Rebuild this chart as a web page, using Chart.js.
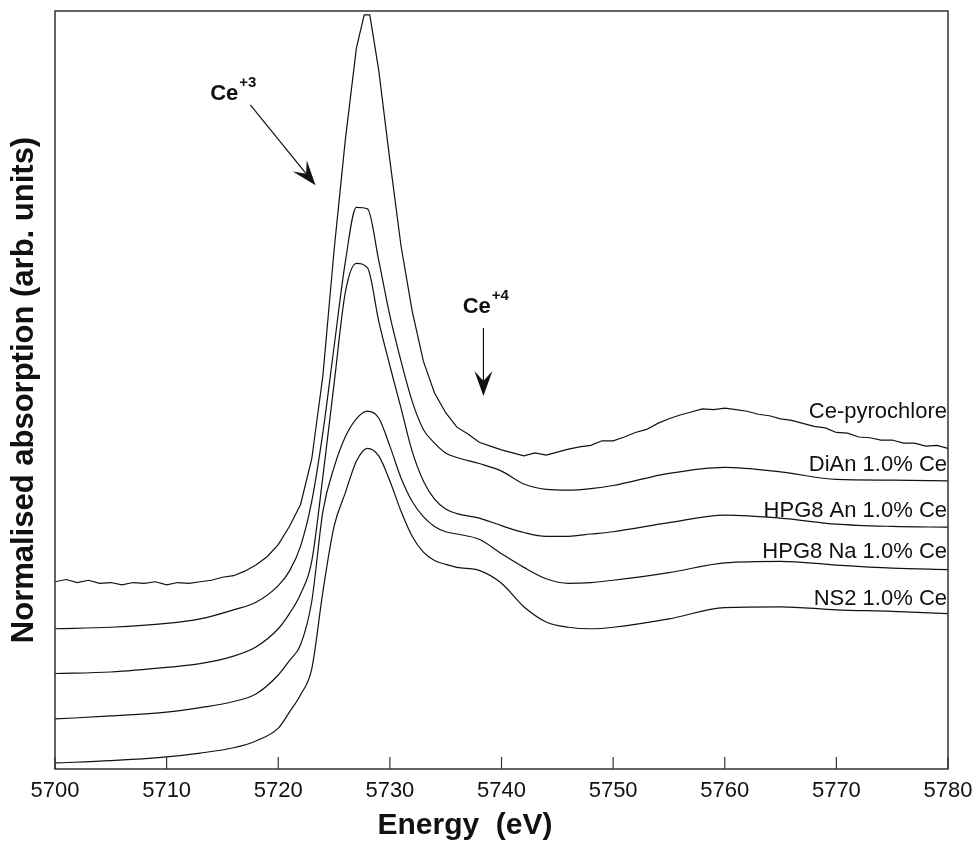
<!DOCTYPE html>
<html>
<head>
<meta charset="utf-8">
<title>Ce L3-edge XANES</title>
<script src="https://cdn.jsdelivr.net/npm/chart.js@4.4.1/dist/chart.umd.min.js"></script>
<style>
html,body{margin:0;padding:0;background:#fff;}
</style>
</head>
<body>
<canvas id="grafica" width="977" height="842"></canvas>
<script>
//-------------datos-----------------//
// energia comun (eV) para los vidrios
const energia = [5700,5705,5710,5713,5716,5718,5720,5721,5722,5723,5724,5725,5726,5727,5728,5729,5730,5731,5732,5733,5734,5735,5736,5738,5740,5742,5744,5746,5748,5750,5755,5760,5765,5770,5775,5780];

const dian   = [1.85,1.87,1.92,1.98,2.10,2.20,2.42,2.61,2.94,3.53,4.44,5.57,6.68,7.41,7.39,6.71,5.98,5.38,4.85,4.48,4.30,4.17,4.11,4.03,3.93,3.76,3.69,3.68,3.70,3.74,3.90,3.98,3.92,3.82,3.81,3.80];
const hpg8An = [1.26,1.28,1.34,1.39,1.49,1.61,1.85,2.05,2.31,2.74,3.86,5.08,6.28,6.67,6.61,5.91,5.32,4.76,4.19,3.80,3.56,3.43,3.37,3.31,3.21,3.12,3.07,3.07,3.10,3.13,3.25,3.35,3.31,3.23,3.20,3.19];
const hpg8Na = [0.66,0.70,0.75,0.81,0.89,0.99,1.24,1.43,1.64,2.21,3.40,3.98,4.38,4.62,4.72,4.63,4.26,3.84,3.53,3.33,3.20,3.13,3.10,3.03,2.84,2.66,2.51,2.45,2.46,2.49,2.59,2.72,2.74,2.69,2.65,2.63];
const ns2    = [0.08,0.11,0.16,0.21,0.28,0.37,0.54,0.75,0.98,1.32,2.34,3.20,3.64,4.06,4.23,4.13,3.80,3.40,3.07,2.86,2.75,2.70,2.66,2.62,2.45,2.14,1.94,1.87,1.85,1.87,1.98,2.13,2.14,2.10,2.08,2.05];

// pirocloro: espectro con ruido, paso de 1 eV
const energiaPyro = [5700,5701,5702,5703,5704,5705,5706,5707,5708,5709,5710,5711,5712,5713,5714,5715,5716,5717,5718,5719,5720,5721,5722,5723,5724,5725,5726,5727,5727.7,5728.2,
	5729,5730,5731,5732,5733,5734,5735,5736,5737,5738,5739,5740,5741,5742,5743,5744,5745,5746,5747,5748,5749,5750,5751,5752,5753,5754,5755,5756,5757,5758,5759,5760,
	5761,5762,5763,5764,5765,5766,5767,5768,5769,5770,5771,5772,5773,5774,5775,5776,5777,5778,5779,5780];
const pyro = [2.47,2.50,2.46,2.49,2.45,2.46,2.43,2.46,2.45,2.47,2.43,2.46,2.45,2.47,2.49,2.53,2.55,2.61,2.69,2.80,2.96,3.20,3.49,4.09,5.19,6.84,8.29,9.51,9.95,9.95,
	9.22,8.03,6.90,6.04,5.38,4.96,4.70,4.51,4.42,4.31,4.26,4.21,4.17,4.13,4.17,4.14,4.18,4.22,4.25,4.27,4.33,4.33,4.38,4.44,4.48,4.56,4.62,4.67,4.71,4.75,4.74,4.76,
	4.74,4.72,4.68,4.66,4.62,4.60,4.56,4.52,4.50,4.44,4.43,4.38,4.37,4.34,4.34,4.30,4.30,4.26,4.27,4.23];

const etiquetas = ['Ce-pyrochlore','DiAn 1.0% Ce','HPG8 An 1.0% Ce','HPG8 Na 1.0% Ce','NS2 1.0% Ce'];
const yEtiqueta = [4.63,3.93,3.33,2.78,2.17];   // linea base del texto

// flechas: [E inicio, y inicio, E punta, y punta]
const flecha3 = [5717.5,8.76,5723.34,7.70];
const flecha4 = [5738.38,5.82,5738.38,4.92];
// texto Ce con su carga: [E, y, carga]
const textoCe = [[5713.9,8.82,'+3'],[5736.52,6.02,'+4']];

const ticksX = [5700,5710,5720,5730,5740,5750,5760,5770,5780];
//-----------------------------------//

const fuente = "'Liberation Sans', Arial, Helvetica, sans-serif";
const negro = '#111';

function puntos(xs, ys){
	var arr = [];
	for (var i = 0; i < xs.length; i++) {
		arr.push({x: xs[i], y: ys[i]});
	}
	return arr;
}

function serie(xs, ys, suave){
	return {
		data: puntos(xs, ys),
		borderColor: negro,
		borderWidth: 1.2,
		pointRadius: 0,
		fill: false,
		tension: 0,
		cubicInterpolationMode: suave ? 'monotone' : 'default'
	};
}

function dibujaFlecha(ctx, x1, y1, x2, y2){
	var dx = x2 - x1, dy = y2 - y1;
	var len = Math.sqrt(dx*dx + dy*dy);
	var ux = dx/len, uy = dy/len;
	var nx = -uy, ny = ux;
	var L = 25, W = 9;
	ctx.beginPath();
	ctx.moveTo(x1, y1);
	ctx.lineTo(x2 - ux*L*0.6, y2 - uy*L*0.6);
	ctx.lineWidth = 1.2;
	ctx.stroke();
	ctx.beginPath();
	ctx.moveTo(x2, y2);
	ctx.lineTo(x2 - ux*L + nx*W, y2 - uy*L + ny*W);
	ctx.lineTo(x2 - ux*L*0.6, y2 - uy*L*0.6);
	ctx.lineTo(x2 - ux*L - nx*W, y2 - uy*L - ny*W);
	ctx.closePath();
	ctx.fill();
}

const anotaciones = {
	id: 'anotaciones',
	afterDatasetsDraw(chart){
		const ctx = chart.ctx;
		const area = chart.chartArea;
		const sx = chart.scales.x, sy = chart.scales.y;
		ctx.save();
		ctx.strokeStyle = negro;
		ctx.fillStyle = negro;

		// marco
		ctx.lineWidth = 1.5;
		ctx.strokeStyle = '#333';
		ctx.strokeRect(area.left, area.top, area.right - area.left, area.bottom - area.top);

		// marcas hacia dentro
		ctx.lineWidth = 1.2;
		for (var k in ticksX) {
			var px = sx.getPixelForValue(ticksX[k]);
			ctx.beginPath();
			ctx.moveTo(px, area.bottom);
			ctx.lineTo(px, area.bottom - 12);
			ctx.stroke();
		}
		ctx.strokeStyle = negro;

		// nombres de las muestras
		ctx.font = '22px ' + fuente;
		ctx.textAlign = 'right';
		ctx.textBaseline = 'alphabetic';
		for (var i = 0; i < etiquetas.length; i++) {
			ctx.fillText(etiquetas[i], area.right - 1, sy.getPixelForValue(yEtiqueta[i]));
		}

		// flechas
		[flecha3, flecha4].forEach(function(f){
			dibujaFlecha(ctx, sx.getPixelForValue(f[0]), sy.getPixelForValue(f[1]),
				sx.getPixelForValue(f[2]), sy.getPixelForValue(f[3]));
		});

		// Ce+3 y Ce+4
		ctx.textAlign = 'left';
		textoCe.forEach(function(t){
			var px = sx.getPixelForValue(t[0]);
			var py = sy.getPixelForValue(t[1]);
			ctx.font = 'bold 22px ' + fuente;
			ctx.fillText('Ce', px, py);
			var w = ctx.measureText('Ce').width;
			ctx.font = 'bold 15px ' + fuente;
			ctx.fillText(t[2], px + w + 1, py - 13);
		});

		// titulos de ejes
		ctx.font = 'bold 30px ' + fuente;
		ctx.textAlign = 'center';
		ctx.fillText('Energy  (eV)', 465, 834);
		ctx.save();
		ctx.font = 'bold 31px ' + fuente;
		ctx.translate(33, (area.top + area.bottom)/2);
		ctx.rotate(-Math.PI/2);
		ctx.fillText('Normalised absorption (arb. units)', 0, 0);
		ctx.restore();

		ctx.restore();
	}
};

window.onload = function(){
	const ctx = document.getElementById('grafica').getContext('2d');
	new Chart(ctx, {
		type: 'line',
		data: {
			datasets: [
				serie(energiaPyro, pyro, false),
				serie(energia, dian, true),
				serie(energia, hpg8An, true),
				serie(energia, hpg8Na, true),
				serie(energia, ns2, true)
			]
		},
		options: {
			responsive: false,
			animation: false,
			layout: { padding: { left: 55, right: 29, top: 11, bottom: 0 } },
			plugins: { legend: { display: false }, tooltip: { enabled: false } },
			scales: {
				x: {
					type: 'linear',
					min: 5700,
					max: 5780,
					grid: { display: false, drawTicks: false },
					border: { display: false },
					afterFit: function(s){
						s.height = 73;
						// que la ultima etiqueta no encoja el area
						s.paddingLeft = 0;
						s.paddingRight = 0;
					},
					ticks: {
						stepSize: 10,
						color: negro,
						padding: 9,
						maxRotation: 0,
						font: { family: fuente, size: 22 },
						callback: function(v){ return String(v); }
					}
				},
				y: {
					display: false,
					min: 0,
					max: 10
				}
			}
		},
		plugins: [anotaciones]
	});
};
</script>
</body>
</html>
